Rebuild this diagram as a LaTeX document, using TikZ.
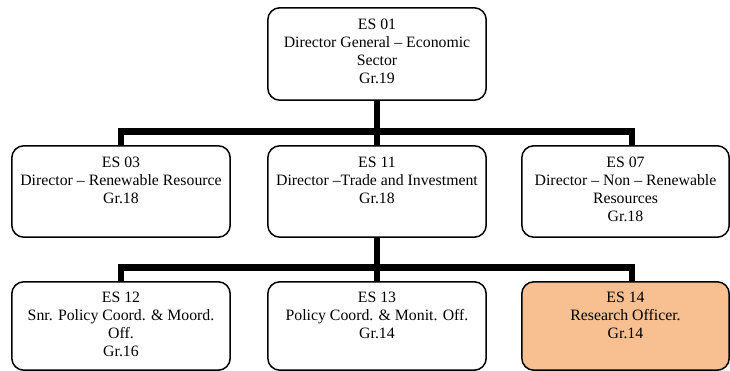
\documentclass[tikz,border=0pt]{standalone}
\usepackage{fontspec}
\setmainfont{Liberation Serif}
\begin{document}
\begin{tikzpicture}[x=1pt,y=-1pt,
  box/.style={draw=black, line width=1.5pt, rounded corners=12pt, fill=white, inner sep=0pt},
  hilite/.style={box, fill=orangebox},
  lbl/.style={anchor=north, inner sep=0pt, align=center, font=\fontsize{15.8}{18}\selectfont},
  conn/.style={line width=6.5pt, line join=miter, draw=black}]
\definecolor{orangebox}{RGB}{248,192,145}
\useasboundingbox (0,0) rectangle (730,371);
\coordinate (bar1) at (377,131.5);
\coordinate (bar2) at (377,267.5);
\node[minimum width=218pt, minimum height=92pt, inner sep=0pt] (es01) at (377,54) {};
\node[minimum width=218pt, minimum height=91pt, inner sep=0pt] (es03) at (121,191.5) {};
\node[minimum width=218pt, minimum height=91pt, inner sep=0pt] (es11) at (377,191.5) {};
\node[minimum width=207pt, minimum height=91pt, inner sep=0pt] (es07) at (625.5,191.5) {};
\node[minimum width=218pt, minimum height=88pt, inner sep=0pt] (es12) at (121,326) {};
\node[minimum width=218pt, minimum height=88pt, inner sep=0pt] (es13) at (377,326) {};
\node[minimum width=207pt, minimum height=88pt, inner sep=0pt] (es14) at (625.5,326) {};
% connectors
\draw[conn] (es03.north) |- (bar1) -| ([xshift=6.5pt]es07.north);
\draw[conn] (es01.south) -- (es11.north);
\draw[conn] (es12.north) |- (bar2) -| ([xshift=6.5pt]es14.north);
\draw[conn] (es11.south) -- (es13.north);
% box outlines
\draw[box] (es01.north west) rectangle (es01.south east);
\draw[box] (es03.north west) rectangle (es03.south east);
\draw[box] (es11.north west) rectangle (es11.south east);
\draw[box] (es07.north west) rectangle (es07.south east);
\draw[box] (es12.north west) rectangle (es12.south east);
\draw[box] (es13.north west) rectangle (es13.south east);
\draw[hilite] (es14.north west) rectangle (es14.south east);
% texts
\node[lbl] (t01) at ([yshift=-11pt]es01.north) {ES 01\\Director General -- Economic\\Sector\\Gr.19};
\node[lbl] (t03) at ([yshift=-11pt]es03.north) {ES 03\\Director -- Renewable Resource\\Gr.18};
\node[lbl] (t11) at ([yshift=-11pt]es11.north) {ES 11\\Director --Trade and Investment\\Gr.18};
\node[lbl] (t07) at ([yshift=-11pt]es07.north) {ES 07\\Director -- Non -- Renewable\\Resources\\Gr.18};
\node[lbl] (t12) at ([yshift=-10pt]es12.north) {ES 12\\Snr. Policy Coord. \& Moord.\\Off.\\Gr.16};
\node[lbl] (t13) at ([yshift=-10pt]es13.north) {ES 13\\Policy Coord. \& Monit. Off.\\Gr.14};
\node[lbl] (t14) at ([yshift=-10pt]es14.north) {ES 14\\Research Officer.\\Gr.14};
\end{tikzpicture}
\end{document}
